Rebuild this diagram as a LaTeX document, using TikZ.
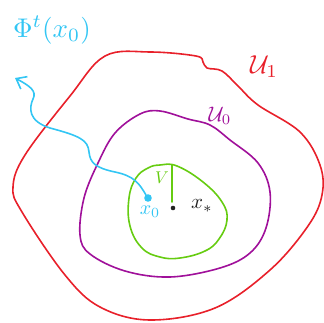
\documentclass[tikz,border=0pt]{standalone}
\usepackage{amsmath}
\usetikzlibrary{arrows.meta}
\definecolor{ured}{HTML}{E8202A}
\definecolor{upur}{HTML}{A0109A}
\definecolor{vgreen}{HTML}{66CC11}
\definecolor{xcyan}{HTML}{33C6F4}
\definecolor{xdark}{HTML}{222222}
\begin{document}
\begin{tikzpicture}[x=1pt,y=-1pt,
  curve/.style={line width=1.6pt,line join=round,line cap=round},
  lbl/.style={inner sep=0pt}]
\useasboundingbox (0,0) rectangle (324,322);
% U1
\draw[curve,ured] plot[smooth cycle,tension=0.6] coordinates {
 (105,56) (150,52) (196,56) (203,62) (207,68) (222,71) (238,86)
 (258,105) (300,132) (320,165) (322,195) (308,226) (270,270) (215,308)
 (150,320) (100,307) (65,275) (22,212) (13,187) (25,155) (70,96)};
% U0
\draw[curve,upur] plot[smooth cycle,tension=0.6] coordinates {
 (98,163) (115,133) (140,114) (160,111) (188,119) (210,125) (230,140)
 (258,163) (270,192) (266,228) (250,253) (220,268) (170,277)
 (125,271) (90,254) (80,235) (84,198)};
% V
\draw[curve,vgreen] plot[smooth cycle,tension=0.7] coordinates {
 (160,165) (177,166) (203,182) (222,202) (227,220) (219,239) (205,251)
 (180,258) (160,257) (142,248) (130,226) (129,198) (136,178) (148,168)};
\coordinate (vtop) at (172,165);
\coordinate (vbot) at (172,202);
\draw[curve,vgreen] (vtop) -- (vbot);
\node[lbl,text=vgreen,scale=1.7] (vlab) at (162,178) {$V$};
% points
\fill[xdark] (173,208) circle (2.3pt) coordinate (xstar);
\node[lbl,text=xdark,scale=2.1] (xstarlab) at (202,206) {$x_*$};
\fill[xcyan] (148,198) circle (3.8pt);
\coordinate (xzero) at (146,195);
\node[lbl,text=xcyan,scale=2] (xzerolab) at (150,212) {$x_0$};
% flow line
\coordinate (tip) at (15,78);
\draw[curve,xcyan,-{Straight Barb[length=9pt,width=14pt,line width=1.6pt]}]
  (xzero) .. controls (139,183) and (134,176) .. (115,172)
  .. controls (96,168) and (90,163) .. (89,152)
  .. controls (88,140) and (80,136) .. (50,128)
  .. controls (28,121) and (29,108) .. (33,99)
  .. controls (37,91) and (30,86) .. (tip);
% labels
\node[lbl,text=xcyan,scale=2.7] (philab) at (52,30) {$\Phi^t(x_0)$};
\node[lbl,text=ured,scale=2.6] (u1lab) at (264,67) {$\mathcal{U}_1$};
\node[lbl,text=upur,scale=2.1] (u0lab) at (220,116) {$\mathcal{U}_0$};
\end{tikzpicture}
\end{document}
